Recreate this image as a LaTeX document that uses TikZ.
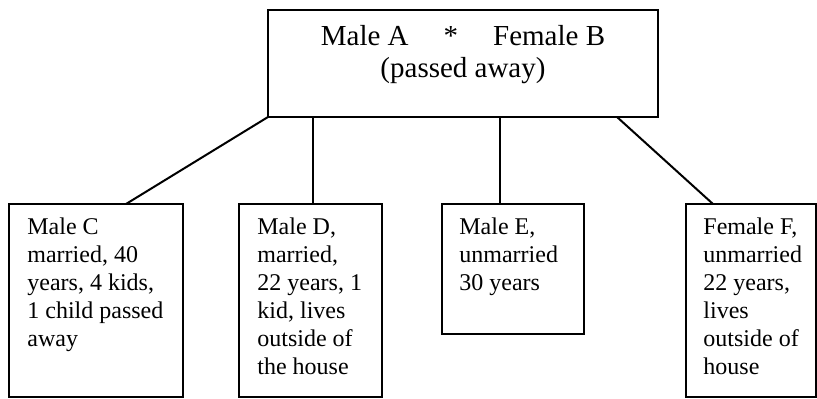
\documentclass[tikz,border=0pt]{standalone}
\usepackage{fontspec}
\setmainfont{Liberation Serif}
\usepackage{tikz}
\usetikzlibrary{calc}

\tikzset{
    member/.style={draw, line width=1pt, inner sep=0pt, outer sep=0pt, anchor=north west},
    info/.style={inner sep=0pt, anchor=north west, align=left, font=\fontsize{12}{14}\selectfont},
    parents/.style={inner sep=0pt, anchor=north, align=center, font=\fontsize{14.5}{16}\selectfont}
}

\begin{document}
\begin{tikzpicture}[x=0.5pt, y=0.5pt]
        \useasboundingbox (0, 0) rectangle (817, 398);

        \node[member, minimum width=195pt, minimum height=53.5pt] (top) at (268, 388) {};
        \node[parents] (toptext) at ([yshift=-7.7pt]top.north)
            {Male A\hspace{17.5pt}*\hspace{17.5pt}Female B\\(passed away)};

        \node[member, minimum width=87pt, minimum height=96.5pt] (c) at (9, 194) {};
        \node[member, minimum width=71.5pt, minimum height=96.5pt] (d) at (239, 194) {};
        \node[member, minimum width=71pt, minimum height=65pt] (e) at (442, 194) {};
        \node[member, minimum width=65pt, minimum height=96.5pt] (f) at (686, 194) {};

        \node[info] (ctext) at ([shift={(9pt, -6.75pt)}]c.north west)
            {Male C\\married, 40\\years, 4 kids,\\1 child passed\\away};
        \node[info] (dtext) at ([shift={(9pt, -6.75pt)}]d.north west)
            {Male D,\\married,\\22 years, 1\\kid, lives\\outside of\\the house};
        \node[info] (etext) at ([shift={(8.5pt, -6.75pt)}]e.north west)
            {Male E,\\unmarried\\30 years};
        \node[info] (ftext) at ([shift={(8.5pt, -6.75pt)}]f.north west)
            {Female F,\\unmarried\\22 years,\\lives\\outside of\\house};

        % children
        \draw[line width=1pt] (top.south west) -- ([xshift=15pt]c.north);
        \draw[line width=1pt] ([xshift=1pt]d.north |- top.south) -- ([xshift=1pt]d.north);
        \draw[line width=1pt] ([xshift=-6.5pt]e.north |- top.south) -- ([xshift=-6.5pt]e.north);
        \draw[line width=1pt] ([xshift=-20.5pt]top.south east) -- ([xshift=13.5pt]f.north west);
    \end{tikzpicture}
\end{document}
